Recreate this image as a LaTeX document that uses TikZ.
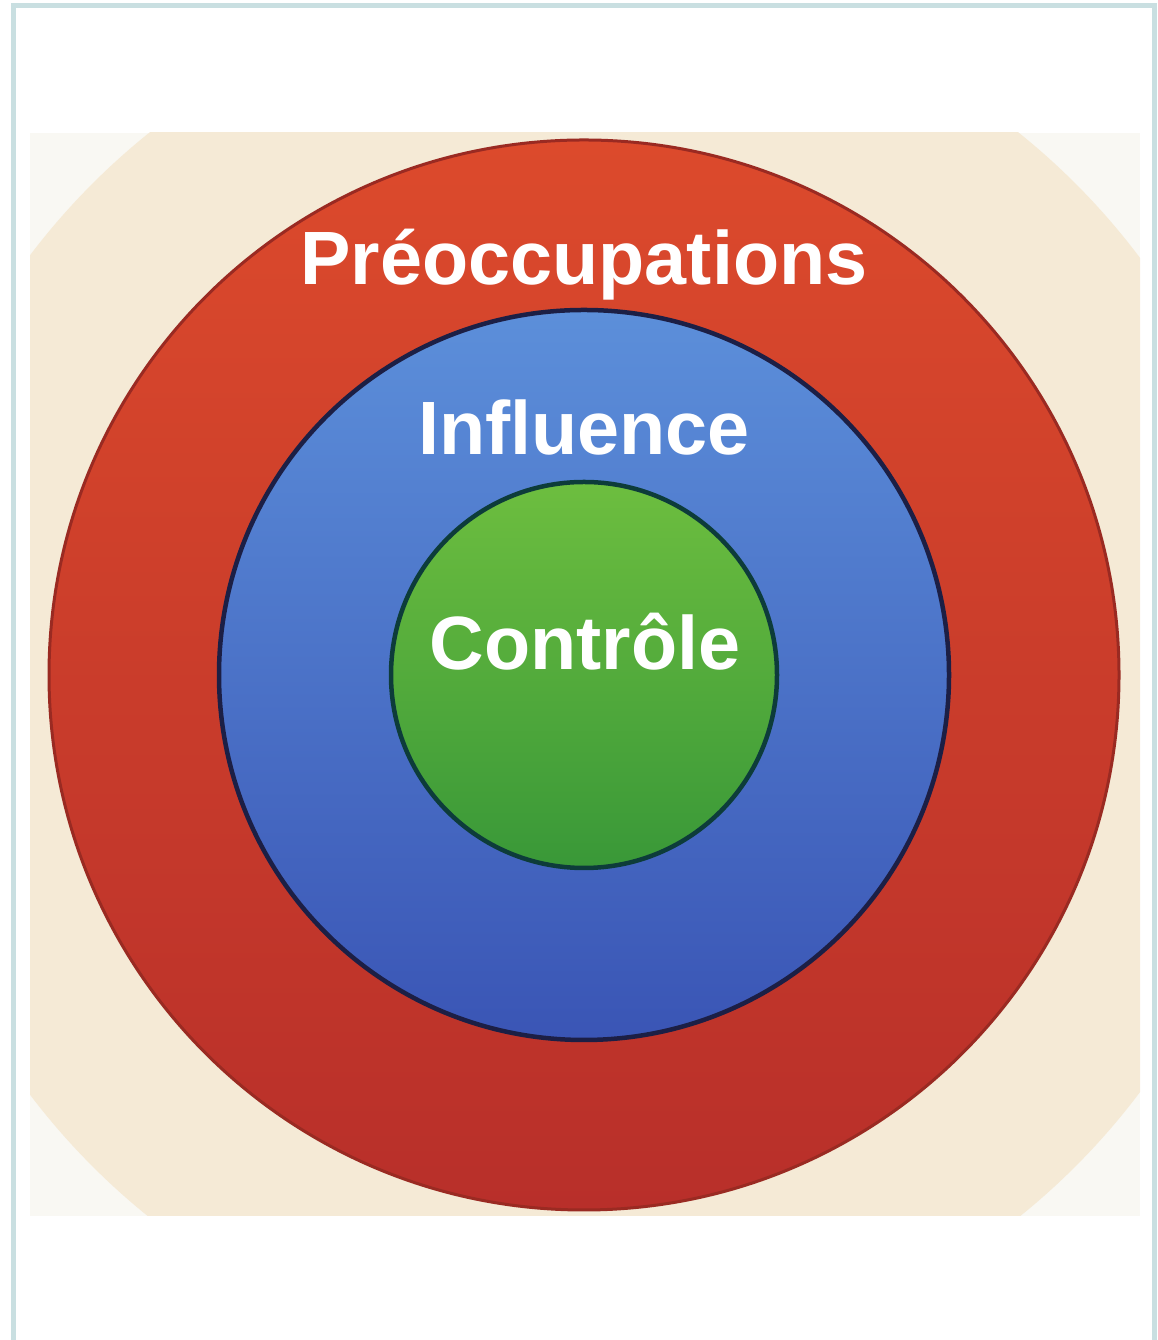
\documentclass[tikz,border=0pt]{standalone}
\usepackage{fontspec}
\setmainfont{Liberation Sans}
\usepackage{tikz}
\definecolor{framegray}{HTML}{C9DFE1}
\definecolor{paper}{HTML}{F5EAD6}
\definecolor{corner}{HTML}{F9F8F3}
\definecolor{redtop}{HTML}{DC4A2C}
\definecolor{redbot}{HTML}{B82F2A}
\definecolor{redline}{HTML}{9A2A22}
\definecolor{bluetop}{HTML}{5C8FDA}
\definecolor{bluebot}{HTML}{3A55B5}
\definecolor{blueline}{HTML}{1C1F45}
\definecolor{greentop}{HTML}{6DBE3F}
\definecolor{greenbot}{HTML}{399838}
\definecolor{greenline}{HTML}{0D3C3A}

\begin{document}
\begin{tikzpicture}
\tikzstyle{ring}=[circle,inner sep=0pt,line width=0.45mm]
\tikzstyle{caption}=[text=white,font=\fontsize{21.5}{24}\selectfont\bfseries,anchor=base,inner sep=0pt]
\useasboundingbox (0,0) rectangle (11.57,13.40);
\draw[framegray,line width=0.5mm] (0.13,0) -- (0.13,13.34) -- (11.54,13.34) -- (11.54,0);
% backdrop
\fill[corner] (0.30,1.24) rectangle (11.40,12.07);
\begin{scope}
\clip (0.30,1.24) rectangle (11.40,12.07);
\fill[paper] (5.84,6.65) circle (6.95);
\end{scope}
% rings
\node[ring,minimum size=10.70cm,draw=redline,line width=0.3mm,top color=redtop,bottom color=redbot] (preocc) at (5.84,6.65){};
\node[ring,minimum size=7.30cm,draw=blueline,top color=bluetop,bottom color=bluebot] (infl) at (preocc.center){};
\node[ring,minimum size=3.86cm,draw=greenline,top color=greentop,bottom color=greenbot] (ctrl) at (preocc.center){};
% labels
\node[caption] (tpreocc) at (5.84,10.55) {Préoccupations};
\node[caption] (tinfl) at (5.84,8.85) {Influence};
\node[caption] (tctrl) at (5.85,6.70) {Contrôle};
\end{tikzpicture}
\end{document}
